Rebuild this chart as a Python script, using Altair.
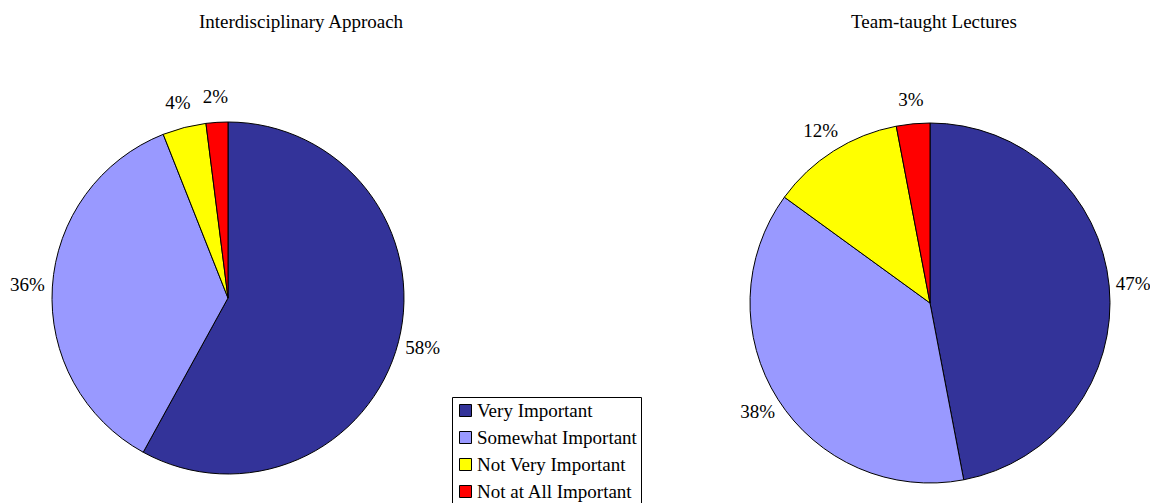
import altair as alt
import pandas as pd

# Survey answers, in slice order (clockwise from 12 o'clock)
categories = ["Very Important", "Somewhat Important", "Not Very Important", "Not at All Important"]
colors = ["#333399", "#9999FF", "#FFFF00", "#FF0000"]

interdisciplinary_pct = [58, 36, 4, 2]
team_taught_pct = [47, 38, 12, 3]

titles = ["Interdisciplinary Approach", "Team-taught Lectures"]

FONT = "Liberation Serif"


def frame(values):
    return pd.DataFrame({
        "category": categories,
        "pct": values,
        "idx": list(range(len(categories))),
        "label": [f"{v}%" for v in values],
    })


left_df = frame(interdisciplinary_pct)
right_df = frame(team_taught_pct)

color_scale = alt.Scale(domain=categories, range=colors)


def pie(df, cx, cy, r, label_r, show_legend):
    base = alt.Chart(df).encode(
        theta=alt.Theta("pct:Q", stack=True, scale=alt.Scale(domain=[0, 100])),
        order=alt.Order("idx:Q"),
        x=alt.value(cx),
        y=alt.value(cy),
    )
    if show_legend:
        legend = alt.Legend(
            title=None,
            orient="none",
            legendX=452,
            legendY=397,
            direction="vertical",
            symbolType="square",
            symbolSize=144,
            symbolStrokeColor="black",
            symbolStrokeWidth=1,
            labelFont=FONT,
            labelFontSize=19,
            labelColor="black",
            labelLimit=400,
            labelOffset=2,
            rowPadding=7,
            padding=4,
            strokeColor="black",
            fillColor="white",
        )
    else:
        legend = None
    arcs = base.mark_arc(radius=r, stroke="black", strokeWidth=1).encode(
        color=alt.Color("category:N", scale=color_scale, sort=categories, legend=legend)
    )
    labels = base.mark_text(
        radius=label_r, font=FONT, fontSize=19, color="black",
        align="center", baseline="middle",
    ).encode(text="label:N")
    return arcs + labels


left = pie(left_df, 228, 298, 176, 201, True)
right = pie(right_df, 930, 303, 180, 204, False)

title_df = pd.DataFrame({"title": titles, "x": [301, 934], "y": [22, 22]})
title_layer = alt.Chart(title_df).mark_text(
    font=FONT, fontSize=19, color="black", align="center", baseline="middle"
).encode(
    x=alt.X("x:Q", scale=alt.Scale(domain=[0, 1150]), axis=None),
    y=alt.Y("y:Q", scale=alt.Scale(domain=[0, 503], reverse=True), axis=None),
    text="title:N",
)

chart = alt.layer(left, right, title_layer).properties(
    width=1150,
    height=503,
    autosize=alt.AutoSizeParams(type="none"),
    padding=0,
    background="white",
).configure_view(
    stroke=None
).configure_text(
    font=FONT
).configure_legend(
    labelFont=FONT
)

chart.save("out.html", embed_options={"renderer": "svg", "actions": False})
